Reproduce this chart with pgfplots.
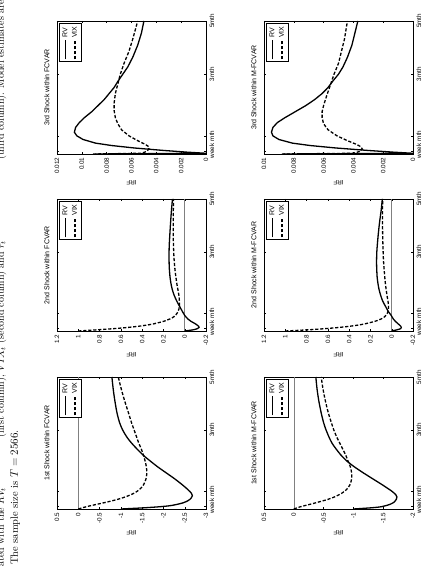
\documentclass[border=0pt]{standalone}
\usepackage{pgfplots}
\pgfplotsset{compat=1.18}
\usepackage{fontspec}
\usepackage{graphicx}
\newfontfamily\arial{Liberation Sans}
\newcommand\tickfont{\arial\fontsize{6.3}{7}\selectfont}
\newcommand\legfont{\arial\fontsize{7}{8}\selectfont}
\newcommand\titlefont{\arial\fontsize{7}{8}\selectfont}
\pgfplotsset{
  panel/.style={
    scale only axis, width=132pt, height=149pt,
    xmin=0, xmax=110,
    xtick={2.5,15,66,110}, xticklabels={week,mth,3mth,5mth},
    tick align=inside, major tick length=2pt,
    tick style={black, line width=0.4pt},
    axis line style={line width=0.5pt},
    ticklabel style={font=\tickfont},
    /pgf/number format/assume math mode=true,
    scaled y ticks=false,
    yticklabel style={/pgf/number format/fixed, /pgf/number format/precision=3},
    title style={font=\titlefont, yshift=-2pt},
    ylabel={IRF}, ylabel style={font=\tickfont},
    legend style={at={(0.985,0.985)}, anchor=north east, font=\legfont,
      draw=black, line width=0.4pt, inner sep=1.2pt, row sep=-1pt, cells={anchor=west}},
    legend image code/.code={\draw[#1] (0pt,0pt) -- (19pt,0pt);},
  },
  rv/.style={black, line width=1.3pt},
  vix/.style={black, line width=1.3pt, dash pattern=on 3.2pt off 1.8pt},
  zero/.style={gray, line width=0.5pt, forget plot},
}
\begin{document}
\rotatebox{90}{%
\begin{tikzpicture}[x=1pt,y=1pt]
\useasboundingbox (0,0) rectangle (567,435);
% caption fragments
\node[anchor=base west, inner sep=0pt, font=\fontsize{10}{12}\selectfont] at (0,431) {ated with the $RV_t$};
\node[anchor=base west, inner sep=0pt, font=\fontsize{10}{12}\selectfont] at (129,431) {(first column), $VIX_t$ (second column) and $r_t$};
\node[anchor=base west, inner sep=0pt, font=\fontsize{10}{12}\selectfont] at (407,431) {(third column). Model estimates are};
\node[anchor=base west, inner sep=0pt, font=\fontsize{10.5}{12}\selectfont] at (2,417) {The sample size is $T = 2566$.};

% ---------- 1st shock FCVAR
\begin{axis}[panel, at={(58pt,378pt)}, anchor=north west,
  title={1st Shock within FCVAR}, ymin=-3, ymax=0.5, ytick={-3,-2.5,...,0.5}]
\addplot[zero] coordinates {(0,0) (110,0)};
\addplot[rv, smooth] coordinates {(0,-1.0) (1,-1.55) (2,-1.95) (3,-2.2) (5,-2.45) (7,-2.58) (9,-2.65) (11,-2.68) (13,-2.66) (16,-2.58) (20,-2.45) (25,-2.27) (30,-2.07) (35,-1.87) (40,-1.69) (45,-1.52) (50,-1.38) (55,-1.25) (60,-1.14) (66,-1.04) (72,-0.97) (80,-0.91) (90,-0.86) (100,-0.82) (110,-0.79)};
\addlegendentry{RV}
\addplot[vix, smooth] coordinates {(0,0) (2,-0.2) (4,-0.45) (6,-0.7) (8,-0.92) (10,-1.1) (13,-1.3) (16,-1.43) (20,-1.53) (25,-1.59) (30,-1.61) (35,-1.6) (40,-1.57) (45,-1.53) (50,-1.48) (55,-1.42) (60,-1.37) (66,-1.31) (72,-1.25) (80,-1.18) (90,-1.09) (100,-1.01) (110,-0.94)};
\addlegendentry{VIX}
\end{axis}

% ---------- 2nd shock FCVAR
\begin{axis}[panel, at={(236pt,378pt)}, anchor=north west,
  title={2nd Shock within FCVAR}, ymin=-0.2, ymax=1.2, ytick={-0.2,0,...,1.2}]
\addplot[zero] coordinates {(0,0) (110,0)};
\addplot[rv, smooth] coordinates {(0,0) (1,-0.08) (2,-0.12) (3,-0.135) (4,-0.13) (6,-0.1) (8,-0.06) (10,-0.03) (13,0.0) (16,0.02) (20,0.045) (25,0.075) (30,0.1) (35,0.118) (40,0.13) (45,0.138) (50,0.143) (55,0.146) (60,0.147) (66,0.147) (72,0.145) (80,0.14) (90,0.133) (100,0.125) (110,0.115)};
\addlegendentry{RV}
\addplot[vix, smooth] coordinates {(0,1.0) (1,0.82) (2,0.66) (3,0.53) (4,0.43) (5,0.35) (6,0.29) (8,0.2) (10,0.14) (12,0.1) (15,0.07) (18,0.055) (21,0.05) (25,0.05) (30,0.055) (35,0.065) (40,0.075) (50,0.09) (60,0.1) (70,0.105) (80,0.108) (90,0.108) (100,0.107) (110,0.105)};
\addlegendentry{VIX}
\end{axis}

% ---------- 3rd shock FCVAR
\begin{axis}[panel, at={(413pt,378pt)}, anchor=north west, width=133pt,
  title={3rd Shock within FCVAR}, ymin=0, ymax=0.012, ytick={0,0.002,...,0.012}]
\addplot[rv] coordinates {(0,0.0089) (0.6,0) (1.5,0.0015) (3,0.0035) (5,0.0058) (7,0.0076) (9,0.0089) (12,0.0099) (15,0.0104) (18,0.0106) (22,0.0105) (26,0.0102) (30,0.0098) (35,0.0092) (40,0.0087) (45,0.0082) (50,0.0078) (55,0.0074) (60,0.0071) (66,0.0067) (72,0.0063) (80,0.0059) (90,0.0055) (100,0.0052) (110,0.0050)};
\addlegendentry{RV}
\addplot[vix] coordinates {(0,0.0091) (0.6,0.0052) (2,0.0048) (4,0.0046) (6,0.0046) (8,0.0049) (11,0.0055) (15,0.0062) (20,0.0068) (25,0.0071) (30,0.0073) (36,0.0074) (42,0.0074) (50,0.0073) (58,0.0071) (66,0.0069) (75,0.0066) (85,0.0062) (95,0.0059) (110,0.0055)};
\addlegendentry{VIX}
\end{axis}

% ---------- 1st shock M-FCVAR
\begin{axis}[panel, at={(58pt,171pt)}, anchor=north west,
  title={1st Shock within M-FCVAR}, ymin=-2, ymax=0.5, ytick={-2,-1.5,...,0.5}]
\addplot[zero] coordinates {(0,0) (110,0)};
\addplot[rv, smooth] coordinates {(0,-1.0) (1,-1.3) (2,-1.48) (4,-1.62) (6,-1.69) (8,-1.72) (10,-1.73) (12,-1.71) (15,-1.64) (20,-1.49) (25,-1.33) (30,-1.17) (35,-1.02) (40,-0.89) (45,-0.79) (50,-0.71) (55,-0.64) (60,-0.59) (66,-0.54) (72,-0.5) (80,-0.46) (90,-0.42) (100,-0.39) (110,-0.37)};
\addlegendentry{RV}
\addplot[vix, smooth] coordinates {(0,0) (2,-0.12) (4,-0.28) (6,-0.43) (8,-0.57) (10,-0.68) (13,-0.8) (16,-0.88) (20,-0.94) (25,-0.97) (30,-0.97) (35,-0.95) (40,-0.91) (45,-0.87) (50,-0.82) (55,-0.77) (60,-0.72) (66,-0.67) (72,-0.63) (80,-0.58) (90,-0.53) (100,-0.49) (110,-0.46)};
\addlegendentry{VIX}
\end{axis}

% ---------- 2nd shock M-FCVAR
\begin{axis}[panel, at={(236pt,171pt)}, anchor=north west,
  title={2nd Shock within M-FCVAR}, ymin=-0.2, ymax=1.2, ytick={-0.2,0,...,1.2}]
\addplot[zero] coordinates {(0,0) (110,0)};
\addplot[rv, smooth] coordinates {(0,0) (1,-0.05) (2,-0.085) (3,-0.09) (4,-0.085) (6,-0.06) (8,-0.035) (10,-0.015) (13,0.005) (16,0.03) (20,0.055) (25,0.085) (30,0.105) (35,0.12) (40,0.13) (45,0.137) (50,0.14) (55,0.142) (60,0.142) (66,0.14) (72,0.135) (80,0.127) (90,0.115) (100,0.1) (110,0.088)};
\addlegendentry{RV}
\addplot[vix, smooth] coordinates {(0,1.0) (1,0.78) (2,0.62) (3,0.49) (4,0.39) (5,0.31) (6,0.25) (8,0.16) (10,0.1) (12,0.065) (15,0.04) (18,0.03) (21,0.03) (25,0.035) (30,0.045) (40,0.06) (50,0.07) (60,0.078) (70,0.082) (80,0.085) (90,0.086) (100,0.086) (110,0.085)};
\addlegendentry{VIX}
\end{axis}

% ---------- 3rd shock M-FCVAR
\begin{axis}[panel, at={(413pt,171pt)}, anchor=north west, width=133pt,
  title={3rd Shock within M-FCVAR}, ymin=0, ymax=0.01, ytick={0,0.002,...,0.01}]
\addplot[rv] coordinates {(0,0.0087) (0.6,0) (1.5,0.0013) (3,0.0031) (5,0.0052) (7,0.0069) (9,0.0081) (12,0.009) (15,0.0094) (18,0.0095) (22,0.0094) (26,0.0091) (30,0.0086) (35,0.0079) (40,0.0072) (45,0.0066) (50,0.0061) (55,0.0057) (60,0.0054) (66,0.005) (72,0.0047) (80,0.0044) (90,0.0041) (100,0.0039) (110,0.0037)};
\addlegendentry{RV}
\addplot[vix] coordinates {(0,0.0088) (0.6,0.004) (2,0.0036) (4,0.0034) (6,0.0035) (8,0.0038) (11,0.0044) (15,0.0051) (20,0.0057) (25,0.006) (30,0.0061) (35,0.0061) (40,0.006) (48,0.0058) (55,0.0056) (66,0.0053) (75,0.005) (85,0.0048) (95,0.0046) (110,0.0044)};
\addlegendentry{VIX}
\end{axis}
\end{tikzpicture}}
\end{document}
